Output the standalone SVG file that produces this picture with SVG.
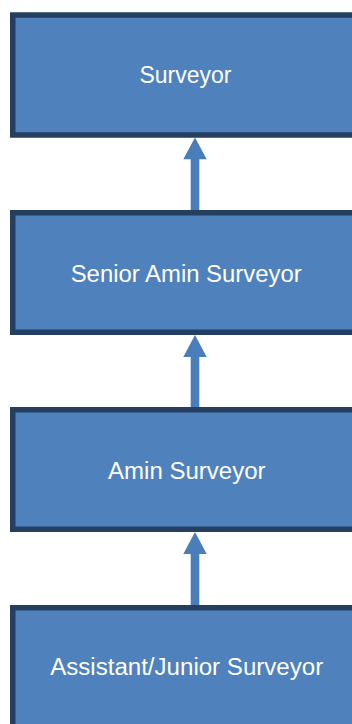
<svg xmlns="http://www.w3.org/2000/svg" width="352" height="724" viewBox="0 0 352 724">
<style>
.box{fill:#4F81BD;stroke:#243F60;stroke-width:5.5}
.lbl{font-family:"Liberation Sans",Arial,sans-serif;font-size:23px;fill:#FFFFFF;text-anchor:middle}
.arr{fill:#4A7EBB}
</style>
<rect width="352" height="724" fill="#FFFFFF"/>
<g id="connectors">
<polygon class="arr" points="195,137.5 206.7,159.3 199.3,159.3 199.3,211 190.7,211 190.7,159.3 183.3,159.3"/>
<polygon class="arr" points="195,335 206.7,357 199.3,357 199.3,408 190.7,408 190.7,357 183.3,357"/>
<polygon class="arr" points="195,532 206.7,554 199.3,554 199.3,606 190.7,606 190.7,554 183.3,554"/>
</g>
<g id="surveyor">
<rect class="box" x="12.75" y="15" width="360" height="120"/>
<text class="lbl" x="185.5" y="83.3" textLength="92" lengthAdjust="spacingAndGlyphs">Surveyor</text>
</g>
<g id="senior-amin-surveyor">
<rect class="box" x="12.75" y="212.75" width="360" height="119.5"/>
<text class="lbl" x="186.2" y="281.7" textLength="231" lengthAdjust="spacingAndGlyphs">Senior Amin Surveyor</text>
</g>
<g id="amin-surveyor">
<rect class="box" x="12.75" y="409.75" width="360" height="119.5"/>
<text class="lbl" x="186.8" y="479" textLength="157.5" lengthAdjust="spacingAndGlyphs">Amin Surveyor</text>
</g>
<g id="assistant-junior-surveyor">
<rect class="box" x="12.75" y="607.75" width="360" height="200"/>
<text class="lbl" x="186.7" y="675" textLength="273" lengthAdjust="spacingAndGlyphs">Assistant/Junior Surveyor</text>
</g>
</svg>
